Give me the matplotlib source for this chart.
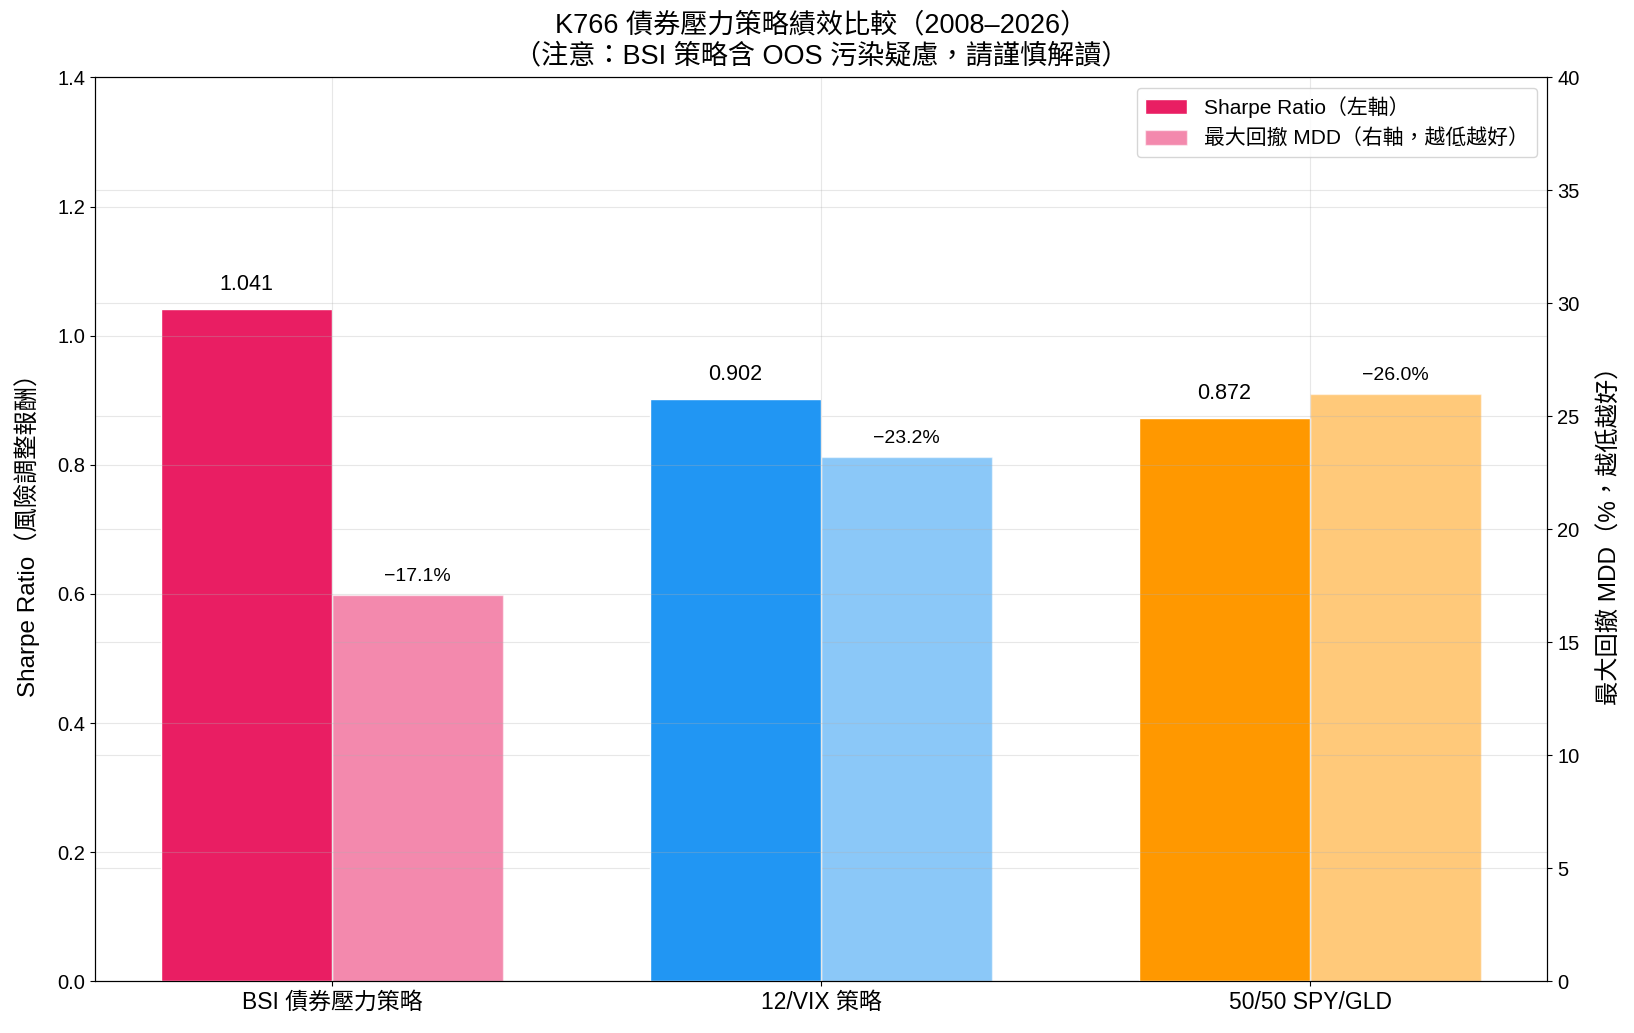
import numpy as np
import matplotlib
matplotlib.use("Agg")
import matplotlib.pyplot as plt

plt.rcParams['font.family'] = ['Liberation Sans', 'Noto Sans CJK TC', 'DejaVu Sans']
plt.rcParams['axes.unicode_minus'] = False

# -----------------------------------------------------------
#   資料
# -----------------------------------------------------------
strategies = ["BSI 債券壓力策略", "12/VIX 策略", "50/50 SPY/GLD"]
sharpe = [1.041, 0.902, 0.872]
mdd = [17.1, 23.2, 26.0]          # 絕對值 (%)

colors = ["#E91E63", "#2196F3", "#FF9800"]

x = np.arange(len(strategies))
w = 0.35

fig, ax1 = plt.subplots(figsize=(16.34, 10.33), dpi=100)
fig.subplots_adjust(left=0.058, right=0.947, top=0.925, bottom=0.05)
ax2 = ax1.twinx()

b1 = ax1.bar(x - w / 2, sharpe, w, color=colors,
             edgecolor="white", linewidth=1, label="Sharpe Ratio（左軸）")
b2 = ax2.bar(x + w / 2, mdd, w, color=colors, alpha=0.52,
             edgecolor="white", linewidth=1, label="最大回撤 MDD（右軸，越低越好）")

for xi, v in zip(x, sharpe):
    ax1.text(xi - w / 2, v + 0.022, f"{v:.3f}", ha="center", va="bottom", fontsize=15.5)
for xi, v in zip(x, mdd):
    ax2.text(xi + w / 2, v + 0.45, f"−{v:.1f}%", ha="center", va="bottom", fontsize=14)

ax1.set_ylim(0, 1.4)
ax2.set_ylim(0, 40)
ax1.set_xticks(x)
ax1.set_xticklabels(strategies, fontsize=16.5)
ax1.tick_params(axis="y", labelsize=14.5)
ax2.tick_params(axis="y", labelsize=14.5)
ax1.set_ylabel("Sharpe Ratio（風險調整報酬）", fontsize=17.5, labelpad=12)
ax2.set_ylabel("最大回撤 MDD（%，越低越好）", fontsize=17.5, labelpad=14)
ax1.set_title("K766 債券壓力策略績效比較（2008–2026）\n（注意：BSI 策略含 OOS 污染疑慮，請謹慎解讀）",
              fontsize=19.5, linespacing=1.25, pad=10)

ax1.grid(True, alpha=0.3)
ax2.grid(True, axis="y", alpha=0.3)

ax1.legend(handles=[b1[0], b2[0]], labels=[b1.get_label(), b2.get_label()],
           loc="upper right", fontsize=15)
ax1.set_zorder(ax2.get_zorder() + 1)
ax1.patch.set_visible(False)

plt.savefig("out.png", dpi=100)
